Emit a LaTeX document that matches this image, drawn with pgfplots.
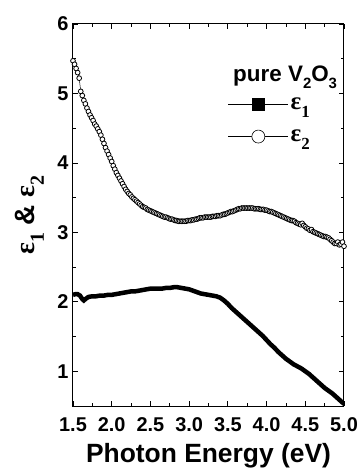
\documentclass[border=0pt]{standalone}
\usepackage{fontspec}
\setmainfont{Liberation Sans}
\newfontfamily\grk{Liberation Serif}
\usepackage{pgfplots}
\usepackage{pgfplotstable}
\pgfplotsset{compat=1.18}
\newcommand\lo[2]{\raisebox{-0.32em}{\fontsize{#1}{#1}\selectfont #2}}

\pgfplotstableread{
x y
1.50 2.10
1.53 2.11
1.56 2.11
1.59 2.09
1.62 2.04
1.64 2.02
1.66 2.04
1.70 2.07
1.75 2.08
1.80 2.08
1.85 2.09
1.90 2.09
1.95 2.10
2.00 2.10
2.05 2.11
2.10 2.12
2.15 2.13
2.20 2.14
2.25 2.15
2.30 2.15
2.35 2.16
2.40 2.17
2.45 2.18
2.50 2.19
2.55 2.19
2.60 2.19
2.65 2.19
2.70 2.20
2.75 2.20
2.80 2.21
2.85 2.21
2.90 2.20
2.95 2.19
3.00 2.18
3.05 2.16
3.10 2.14
3.15 2.12
3.20 2.11
3.25 2.10
3.30 2.09
3.35 2.08
3.40 2.06
3.45 2.02
3.50 1.97
3.55 1.91
3.60 1.86
3.65 1.81
3.70 1.76
3.75 1.71
3.80 1.66
3.85 1.61
3.90 1.56
3.95 1.51
4.00 1.45
4.05 1.39
4.10 1.34
4.15 1.28
4.20 1.23
4.25 1.18
4.30 1.14
4.35 1.10
4.40 1.07
4.45 1.04
4.50 1.00
4.55 0.96
4.60 0.91
4.65 0.86
4.70 0.81
4.75 0.76
4.80 0.72
4.85 0.68
4.90 0.63
4.95 0.58
5.00 0.53
}\epsone

\pgfplotstableread{
x y
1.50 5.47
1.52 5.42
1.54 5.36
1.56 5.30
1.58 5.22
1.60 5.03
1.62 4.97
1.64 4.90
1.66 4.85
1.68 4.79
1.70 4.74
1.72 4.69
1.74 4.65
1.76 4.61
1.78 4.56
1.80 4.53
1.82 4.49
1.84 4.45
1.86 4.40
1.88 4.34
1.90 4.28
1.92 4.22
1.94 4.17
1.96 4.12
1.98 4.07
2.00 4.02
2.02 3.96
2.04 3.91
2.06 3.86
2.08 3.82
2.10 3.78
2.12 3.74
2.14 3.70
2.16 3.66
2.18 3.62
2.20 3.59
2.22 3.56
2.24 3.54
2.26 3.51
2.28 3.49
2.30 3.47
2.32 3.45
2.34 3.43
2.36 3.41
2.38 3.39
2.40 3.37
2.42 3.36
2.44 3.35
2.46 3.33
2.48 3.32
2.50 3.31
2.52 3.30
2.54 3.29
2.56 3.28
2.58 3.27
2.60 3.26
2.62 3.25
2.64 3.24
2.66 3.23
2.68 3.22
2.70 3.22
2.72 3.21
2.74 3.20
2.76 3.19
2.78 3.19
2.80 3.18
2.82 3.17
2.84 3.17
2.86 3.16
2.88 3.16
2.90 3.16
2.92 3.16
2.94 3.16
2.96 3.16
2.98 3.17
3.00 3.17
3.02 3.17
3.04 3.18
3.06 3.18
3.08 3.19
3.10 3.19
3.12 3.20
3.14 3.21
3.16 3.21
3.18 3.21
3.20 3.22
3.22 3.22
3.24 3.22
3.26 3.22
3.28 3.22
3.30 3.23
3.32 3.23
3.34 3.23
3.36 3.24
3.38 3.24
3.40 3.24
3.42 3.25
3.44 3.26
3.46 3.26
3.48 3.27
3.50 3.28
3.52 3.29
3.54 3.30
3.56 3.30
3.58 3.31
3.60 3.32
3.62 3.33
3.64 3.34
3.66 3.34
3.68 3.35
3.70 3.35
3.72 3.35
3.74 3.35
3.76 3.35
3.78 3.35
3.80 3.35
3.82 3.35
3.84 3.34
3.86 3.34
3.88 3.34
3.90 3.34
3.92 3.33
3.94 3.33
3.96 3.33
3.98 3.32
4.00 3.32
4.02 3.31
4.04 3.30
4.06 3.30
4.08 3.29
4.10 3.28
4.12 3.27
4.14 3.26
4.16 3.25
4.18 3.24
4.20 3.23
4.22 3.22
4.24 3.21
4.26 3.20
4.28 3.19
4.30 3.18
4.32 3.17
4.34 3.17
4.36 3.16
4.38 3.14
4.40 3.13
4.42 3.12
4.44 3.11
4.46 3.13
4.48 3.10
4.50 3.08
4.52 3.06
4.54 3.05
4.56 3.03
4.58 3.04
4.60 3.01
4.62 3.00
4.64 2.99
4.66 2.98
4.68 2.97
4.70 2.96
4.72 2.95
4.74 2.94
4.76 2.94
4.78 2.93
4.80 2.92
4.82 2.90
4.84 2.88
4.86 2.86
4.88 2.84
4.90 2.84
4.92 2.86
4.94 2.82
4.96 2.83
4.98 2.86
5.00 2.80
}\epstwo

\begin{document}
\begin{tikzpicture}
\begin{axis}[
  at={(0,0)}, anchor=south west,
  scale only axis, width=271bp, height=382bp,
  xmin=1.5, xmax=5.0, ymin=0.5, ymax=6,
  xtick={1.5,2.0,2.5,3.0,3.5,4.0,4.5,5.0},
  ytick={1,2,3,4,5,6},
  minor x tick num=1, minor y tick num=1,
  tick align=inside,
  major tick length=5bp, minor tick length=3bp,
  axis line style={line width=1bp},
  every tick/.style={black, line width=0.8bp},
  /pgf/number format/assume math mode=true,
  xticklabel style={/pgf/number format/.cd, fixed, fixed zerofill, precision=1, /tikz/.cd, anchor=base, yshift=-25bp},
  yticklabel style={xshift=-1bp},
  ticklabel style={font=\fontsize{20}{20}\selectfont\bfseries},
  xlabel={Photon Energy (eV)},
  xlabel style={at={(axis description cs:0.5,0)}, anchor=base, yshift=-56bp, font=\fontsize{26.5}{26}\selectfont\bfseries},
  ylabel={{\grk ε\lo{20}{1}} \& {\grk ε\lo{20}{2}}},
  ylabel style={at={(axis description cs:-0.16,0.5)}, anchor=center, font=\fontsize{28}{28}\selectfont\bfseries},
  legend style={at={(axis cs:3.50,4.97)}, anchor=north west, draw=none, fill=none, inner sep=0pt,
    row sep=15bp, font=\fontsize{25}{25}\selectfont\bfseries\grk,
    /tikz/every even column/.append style={column sep=3bp}},
  legend cell align=left,
]
\addplot[black, line width=4.5bp, forget plot] table {\epsone};
\addplot[black, line width=0.5bp, mark=*, mark size=2.4bp, mark options={fill=white, line width=0.8bp}, forget plot] table {\epstwo};
\addlegendimage{legend image code/.code={\draw[black, line width=0.6bp] (0bp,0bp) -- (60bp,0bp); \fill[black] (24bp,-6bp) rectangle (36bp,6bp);}}
\addlegendentry{ε\lo{17}{1}}
\addlegendimage{legend image code/.code={\draw[black, line width=0.6bp] (0bp,0bp) -- (60bp,0bp); \draw[black, fill=white, line width=0.6bp] (30bp,0bp) circle (6.5bp);}}
\addlegendentry{ε\lo{17}{2}}
\node[font=\fontsize{22.5}{22}\selectfont\bfseries, anchor=base] at (axis cs:4.24,5.17) {pure V\lo{15}{2}O\lo{15}{3}};
\end{axis}
\pgfresetboundingbox
\path (-73bp,-63bp) rectangle (287bp,406bp);
\end{tikzpicture}
\end{document}
